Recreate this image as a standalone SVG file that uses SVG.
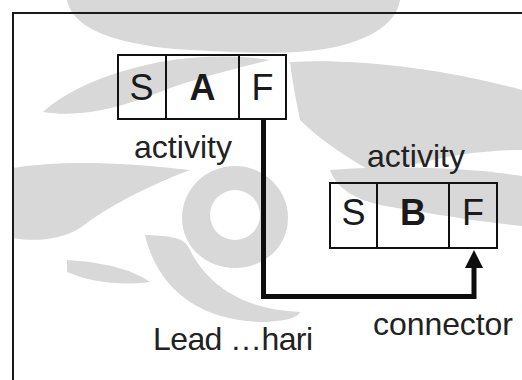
<svg xmlns="http://www.w3.org/2000/svg" width="522" height="380" viewBox="0 0 522 380">
  <style>
    .mark { fill: #d8d8d8; }
    .hole { fill: #ffffff; }
    .frame { fill: none; stroke: #1a1a1a; stroke-width: 2; }
    .cell { fill: none; stroke: #111111; stroke-width: 2; }
    .letter { font-family: "Liberation Sans", Arial, sans-serif; font-size: 36px; fill: #1a1a1a; text-anchor: middle; }
    .bold { font-weight: bold; }
    .label { font-family: "Liberation Sans", Arial, sans-serif; font-size: 32px; fill: #222222; }
    .link { fill: none; stroke: #0d0d0d; stroke-width: 5; stroke-linejoin: miter; }
  </style>
  <defs>
    <!-- solid triangular head, base sits on the line end -->
    <marker id="arrowhead" markerUnits="userSpaceOnUse" markerWidth="20" markerHeight="20" refX="0" refY="10" orient="auto" viewBox="0 0 20 20">
      <path d="M0,1 L18,10 L0,19 Z" fill="#0d0d0d"/>
    </marker>
  </defs>

  <rect width="522" height="380" fill="#ffffff"/>

  <!-- faint background emblem -->
  <g id="emblem">
    <path class="mark" d="M67,0 H400 C396,24 370,40 330,48 C290,56 230,52 190,50 C150,48 110,40 90,28 C76,20 69,10 67,0 Z"/>
    <path class="mark" d="M43,112 C70,88 110,72 160,62 C200,55 240,55 270,60 C230,70 190,80 160,92 C120,108 80,118 43,112 Z"/>
    <path class="mark" d="M290,62 C360,58 450,70 522,90 V150 C470,150 420,160 380,176 C350,160 320,140 300,120 C296,100 292,80 290,62 Z"/>
    <path class="mark" d="M13,168 C60,160 120,162 190,170 C150,185 110,205 80,228 C60,240 35,242 13,238 Z"/>
    <path class="mark" d="M330,170 C400,165 470,168 522,176 V226 C480,222 420,212 380,205 C350,198 335,185 330,170 Z"/>
    <path class="mark" d="M235,166 C265,166 288,190 288,218 C288,246 265,268 235,268 C205,268 182,246 182,218 C182,190 205,166 235,166 Z"/>
    <circle class="hole" cx="235" cy="215" r="25"/>
    <path class="mark" d="M145,235 C158,290 200,320 260,322 C290,322 300,315 300,312 C250,310 210,290 190,250 C185,240 180,236 145,235 Z"/>
    <path class="mark" d="M67,260 C100,262 130,268 150,282 C120,286 90,282 67,272 Z"/>
  </g>

  <path class="frame" d="M13,380 V13 H522"/>

  <g id="activity-a">
    <rect class="cell" x="118" y="55" width="48" height="64"/>
    <rect class="cell" x="166" y="55" width="73" height="64"/>
    <rect class="cell" x="239" y="55" width="47" height="64"/>
    <text class="letter" x="141.5" y="100">S</text>
    <text class="letter bold" x="202.5" y="100">A</text>
    <text class="letter" x="262.5" y="100">F</text>
    <text class="label" x="134" y="158" textLength="98">activity</text>
  </g>

  <g id="activity-b">
    <rect class="cell" x="330" y="183" width="47" height="65"/>
    <rect class="cell" x="377" y="183" width="72" height="65"/>
    <rect class="cell" x="449" y="183" width="48" height="65"/>
    <text class="letter" x="353.5" y="225">S</text>
    <text class="letter bold" x="413" y="225">B</text>
    <text class="letter" x="473" y="225">F</text>
    <text class="label" x="367" y="167" textLength="98">activity</text>
  </g>

  <g id="connectors">
    <path class="link" d="M263.5,120 V296.5 H474 V268" marker-end="url(#arrowhead)"/>
    <text class="label" x="373" y="335" textLength="140">connector</text>
    <text class="label" x="153" y="350" textLength="160">Lead …hari</text>
  </g>
</svg>
